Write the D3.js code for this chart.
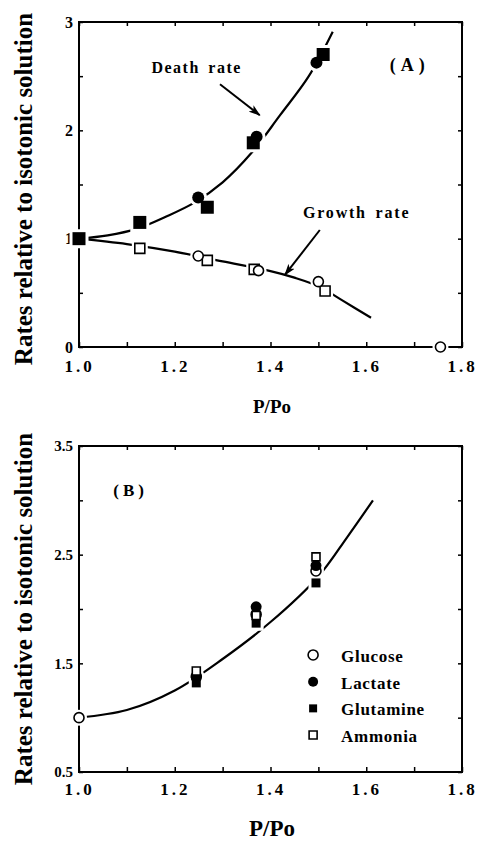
<!DOCTYPE html>
<html>
<head>
<meta charset="utf-8">
<script src="https://cdn.jsdelivr.net/npm/d3@7"></script>
<style>
  body { margin: 0; background: #fff; }
  text { font-family: "Liberation Serif", "Times New Roman", serif; font-weight: bold; fill: #000; }
</style>
</head>
<body>
<svg id="chart" width="477" height="842"></svg>
<script>
(function() {
  "use strict";

  // ---- shared x axis ----
  var xTicks = [1.0, 1.1, 1.2, 1.3, 1.4, 1.5, 1.6, 1.7, 1.8];
  var xTickLabels = ["1.0", "1.2", "1.4", "1.6", "1.8"];

  // ---- panel A ----
  var yTicksA = [0, 0.5, 1, 1.5, 2, 2.5, 3];
  var yTickLabelsA = ["0", "1", "2", "3"];

  var deathSquaresX = [1.0, 1.127, 1.268, 1.364, 1.51];
  var deathSquaresY = [1.0, 1.15, 1.29, 1.885, 2.70];
  var deathCirclesX = [1.249, 1.371, 1.496];
  var deathCirclesY = [1.38, 1.94, 2.625];
  var growthSquaresX = [1.127, 1.268, 1.366, 1.514];
  var growthSquaresY = [0.91, 0.80, 0.717, 0.517];
  var growthCirclesX = [1.249, 1.375, 1.5, 1.755];
  var growthCirclesY = [0.84, 0.705, 0.603, 0.0];

  var deathFitX = [1.0, 1.06, 1.12, 1.18, 1.24, 1.3, 1.36, 1.42, 1.48, 1.53];
  var deathFitY = [1.0, 1.03, 1.09, 1.2, 1.33, 1.52, 1.79, 2.14, 2.5, 2.91];
  var growthFitX = [1.0, 1.1, 1.2, 1.3, 1.4, 1.45, 1.5, 1.55, 1.61];
  var growthFitY = [1.0, 0.95, 0.88, 0.79, 0.7, 0.64, 0.56, 0.43, 0.27];

  // ---- panel B ----
  var yTicksB = [0.5, 1, 1.5, 2, 2.5, 3, 3.5];
  var yTickLabelsB = ["0.5", "1.5", "2.5", "3.5"];

  var ratioB = [1.0, 1.245, 1.37, 1.495];
  var glucose = [1.0, 1.38, 1.95, 2.35];
  var lactate = [null, 1.37, 2.02, 2.40];
  var glutamine = [null, 1.32, 1.87, 2.24];
  var ammonia = [null, 1.43, 1.94, 2.48];

  var fitBX = [1.0, 1.1, 1.2, 1.3, 1.4, 1.5, 1.56, 1.614];
  var fitBY = [1.0, 1.07, 1.25, 1.54, 1.88, 2.3, 2.66, 3.0];

  var svg = d3.select("#chart");

  var x = d3.scaleLinear().domain([1.0, 1.8]).range([79, 462]);
  var yA = d3.scaleLinear().domain([0, 3]).range([347, 22]);
  var yB = d3.scaleLinear().domain([0.5, 3.5]).range([772, 446]);

  svg.append("defs").append("marker")
    .attr("id", "arrow")
    .attr("viewBox", "0 0 12 8")
    .attr("refX", 11).attr("refY", 4)
    .attr("markerWidth", 12).attr("markerHeight", 8)
    .attr("markerUnits", "userSpaceOnUse")
    .attr("orient", "auto")
    .append("path")
    .attr("d", "M0,0 L12,4 L0,8 L3,4 Z")
    .attr("fill", "#000");

  function drawFrame(y, yTicks, yLabels, xPad, yFont) {
    var g = svg.append("g");
    var top = y.range()[1], bottom = y.range()[0];
    var left = x.range()[0], right = x.range()[1];

    var bottomAxis = g.append("g")
      .attr("transform", "translate(0," + bottom + ")")
      .call(d3.axisBottom(x).tickValues(xTicks).tickSizeInner(-5).tickSizeOuter(0)
        .tickPadding(xPad)
        .tickFormat(function(d) {
          var s = d.toFixed(1);
          return xTickLabels.indexOf(s) >= 0 ? s : "";
        }));
    bottomAxis.selectAll("text")
      .attr("font-size", 17).style("letter-spacing", "3px");

    g.append("g")
      .attr("transform", "translate(0," + top + ")")
      .call(d3.axisTop(x).tickValues(xTicks).tickSizeInner(-4).tickSizeOuter(0).tickFormat(""));

    var leftAxis = g.append("g")
      .attr("transform", "translate(" + left + ",0)")
      .call(d3.axisLeft(y).tickValues(yTicks).tickSizeInner(-4).tickSizeOuter(0)
        .tickPadding(6)
        .tickFormat(function(d) {
          var s = yLabels[0].indexOf(".") >= 0 ? d.toFixed(1) : String(d);
          return yLabels.indexOf(s) >= 0 ? s : "";
        }));
    leftAxis.selectAll("text").attr("font-size", yFont);

    g.append("g")
      .attr("transform", "translate(" + right + ",0)")
      .call(d3.axisRight(y).tickValues(yTicks).tickSizeInner(-4).tickSizeOuter(0).tickFormat(""));

    g.selectAll(".domain").remove();
    g.selectAll(".tick line").attr("stroke", "#000").attr("stroke-width", 1.5);
    g.selectAll("text").attr("fill", "#000").attr("font-family", null);

    g.append("rect")
      .attr("x", left).attr("y", top)
      .attr("width", right - left).attr("height", bottom - top)
      .attr("fill", "none").attr("stroke", "#000").attr("stroke-width", 2);
  }

  function fitLine(y, xs, ys) {
    return d3.line()
      .x(function(d, i) { return x(xs[i]); })
      .y(function(d, i) { return y(ys[i]); })
      .curve(d3.curveCatmullRom)(xs);
  }

  function drawCurve(y, xs, ys) {
    svg.append("path")
      .attr("d", fitLine(y, xs, ys))
      .attr("fill", "none")
      .attr("stroke", "#000")
      .attr("stroke-width", 2.2);
  }

  // marker: kind = "circle"|"square", filled bool
  function symbolPath(kind, size) {
    if (kind === "circle") {
      return d3.symbol().type(d3.symbolCircle).size(Math.PI * size * size / 4)();
    }
    return d3.symbol().type(d3.symbolSquare).size(size * size)();
  }

  function drawPoints(layer, y, xs, ys, kind, filled, size, halo) {
    var pts = xs.map(function(v, i) { return [v, ys[i]]; })
      .filter(function(p) { return p[1] !== null; });
    var sel = layer.selectAll(null).data(pts).enter()
      .append("path")
      .attr("transform", function(p) { return "translate(" + x(p[0]) + "," + y(p[1]) + ")"; })
      .attr("d", symbolPath(kind, size));
    if (halo) {
      sel.attr("fill", "#fff").attr("stroke", "#fff").attr("stroke-width", 6);
    } else {
      sel.attr("fill", filled ? "#000" : "#fff")
        .attr("stroke", "#000")
        .attr("stroke-width", filled ? 0 : 1.6);
    }
  }

  function arrow(y, x1, y1, x2, y2) {
    svg.append("line")
      .attr("x1", x(x1)).attr("y1", y(y1))
      .attr("x2", x(x2)).attr("y2", y(y2))
      .attr("stroke", "#000").attr("stroke-width", 2)
      .attr("marker-end", "url(#arrow)");
  }

  function label(y, xv, yv, txt, size, spacing) {
    svg.append("text")
      .attr("x", x(xv)).attr("y", y(yv))
      .attr("text-anchor", "middle")
      .attr("font-size", size)
      .style("letter-spacing", spacing + "px")
      .style("word-spacing", "3px")
      .text(txt);
  }

  /* ------- PANEL A ------- */
  drawFrame(yA, yTicksA, yTickLabelsA, 13, 16);
  drawCurve(yA, deathFitX, deathFitY);
  drawCurve(yA, growthFitX, growthFitY);

  var haloA = svg.append("g");
  var pointsA = svg.append("g");
  [[growthSquaresX, growthSquaresY, "square", false, 10],
   [growthCirclesX, growthCirclesY, "circle", false, 10],
   [deathSquaresX, deathSquaresY, "square", true, 13],
   [deathCirclesX, deathCirclesY, "circle", true, 12]].forEach(function(s) {
    drawPoints(haloA, yA, s[0], s[1], s[2], s[3], s[4], true);
    drawPoints(pointsA, yA, s[0], s[1], s[2], s[3], s[4], false);
  });

  label(yA, 1.2457, 2.53, "Death rate", 16, 1.5);
  label(yA, 1.58, 1.19, "Growth rate", 16, 1.8);
  label(yA, 1.691, 2.55, "(A)", 18, 5);
  arrow(yA, 1.2945, 2.426, 1.3775, 2.14);
  arrow(yA, 1.503, 1.08, 1.43, 0.665);

  svg.append("text")
    .attr("x", 272).attr("y", 413)
    .attr("text-anchor", "middle").attr("font-size", 19)
    .text("P/Po");

  svg.append("text")
    .attr("transform", "translate(32,189) rotate(-90)")
    .attr("text-anchor", "middle").attr("font-size", 25)
    .text("Rates relative to isotonic solution");

  /* ------- PANEL B ------- */
  drawFrame(yB, yTicksB, yTickLabelsB, 11, 15);
  drawCurve(yB, fitBX, fitBY);

  var seriesB = [
    { name: "Glucose", values: glucose, kind: "circle", filled: false, size: 10 },
    { name: "Lactate", values: lactate, kind: "circle", filled: true, size: 11 },
    { name: "Glutamine", values: glutamine, kind: "square", filled: true, size: 9 },
    { name: "Ammonia", values: ammonia, kind: "square", filled: false, size: 8 }
  ];

  var haloB = svg.append("g");
  var pointsB = svg.append("g");
  seriesB.forEach(function(s) {
    drawPoints(haloB, yB, ratioB, s.values, s.kind, s.filled, s.size, true);
  });
  seriesB.forEach(function(s) {
    drawPoints(pointsB, yB, ratioB, s.values, s.kind, s.filled, s.size, false);
  });

  label(yB, 1.108, 3.04, "(B)", 17, 4);

  // legend
  var legend = svg.append("g")
    .attr("transform", "translate(" + x(1.489) + "," + yB(1.577) + ")");
  seriesB.forEach(function(s, i) {
    var row = legend.append("g").attr("transform", "translate(0," + (i * 26.7) + ")");
    row.append("path")
      .attr("d", symbolPath(s.kind, s.kind === "circle" ? 10 : 8))
      .attr("fill", s.filled ? "#000" : "#fff")
      .attr("stroke", "#000")
      .attr("stroke-width", s.filled ? 0 : 1.6);
    row.append("text")
      .attr("x", 28).attr("y", 7)
      .attr("font-size", 17)
      .style("letter-spacing", "0.7px")
      .text(s.name);
  });

  svg.append("text")
    .attr("x", 272).attr("y", 836)
    .attr("text-anchor", "middle").attr("font-size", 23)
    .text("P/Po");

  svg.append("text")
    .attr("transform", "translate(32,609) rotate(-90)")
    .attr("text-anchor", "middle").attr("font-size", 25)
    .text("Rates relative to isotonic solution");
})();
</script>
</body>
</html>
